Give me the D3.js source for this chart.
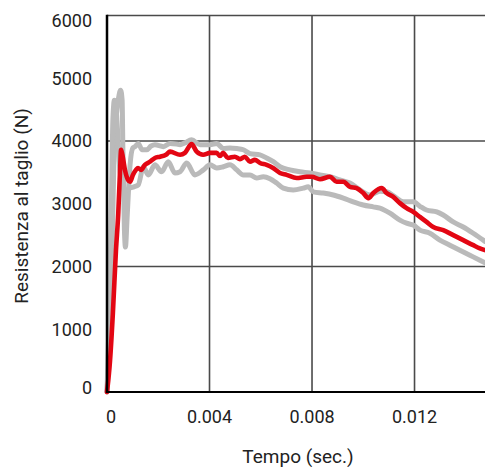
<!DOCTYPE html>
<html lang="it">
  <head>
    <meta charset="UTF-8" />
    <script src="https://d3js.org/d3.v7.min.js"></script>
    <title>Resistenza al taglio</title>
    <style>
      body { margin: 0; background: #fff; }
      text { font-family: Roboto, "DejaVu Sans", sans-serif; fill: #222; }
    </style>
  </head>
  <body>
    <svg id="chart" width="485" height="467"></svg>
  </body>
  <script>
    // tick values
    var xTicks = [0, 0.004, 0.008, 0.012];
    var yTicks = [0, 1000, 2000, 3000, 4000, 5000, 6000];
    var yGrid = [2000, 4000, 6000];

    // grey test 1 (spike, then upper band)
    var greyA_t = [0, 0.00012, 0.0002, 0.00027, 0.00035, 0.00041, 0.00047, 0.00053, 0.00059, 0.00062, 0.00068, 0.00072, 0.00078, 0.00084, 0.0009, 0.00101, 0.00109, 0.00122, 0.00137, 0.00155, 0.00172, 0.00187, 0.0022, 0.00246, 0.00272, 0.00285, 0.00304, 0.0033, 0.00363, 0.00402, 0.00428, 0.00454, 0.0048, 0.00506, 0.00532, 0.00558, 0.00597, 0.00623, 0.00649, 0.00675, 0.00714, 0.00753, 0.00792, 0.00831, 0.0087, 0.00909, 0.00948, 0.00987, 0.01026, 0.01065, 0.01091, 0.01124, 0.01156, 0.01195, 0.01221, 0.01247, 0.01287, 0.01312, 0.01351, 0.0139, 0.01429, 0.01475];
    var greyA_v = [0, 990, 2260, 3700, 4340, 4570, 4730, 4810, 4650, 3860, 2580, 2310, 2740, 3220, 3620, 3890, 3910, 3960, 3860, 3860, 3920, 3940, 3910, 3960, 3950, 3940, 3970, 4020, 3940, 3940, 3960, 3880, 3890, 3880, 3860, 3800, 3780, 3730, 3670, 3590, 3540, 3510, 3490, 3460, 3430, 3380, 3330, 3220, 3140, 3200, 3190, 3110, 3030, 3030, 2960, 2900, 2870, 2820, 2710, 2630, 2530, 2400];

    // grey test 2 (lower band)
    var greyB_t = [0, 0.00006, 0.00012, 0.00018, 0.00023, 0.00029, 0.00035, 0.00041, 0.00047, 0.00055, 0.00066, 0.00077, 0.0009, 0.00105, 0.00122, 0.00142, 0.00161, 0.00187, 0.00213, 0.00239, 0.00265, 0.00285, 0.00311, 0.00343, 0.00376, 0.00402, 0.00428, 0.00454, 0.0048, 0.00506, 0.00532, 0.00558, 0.00584, 0.0061, 0.00636, 0.00662, 0.00688, 0.00727, 0.00766, 0.00785, 0.00805, 0.00844, 0.00883, 0.00922, 0.00961, 0.01, 0.01039, 0.01065, 0.01104, 0.01143, 0.01169, 0.01195, 0.01221, 0.0126, 0.01299, 0.01338, 0.01377, 0.01416, 0.01455, 0.01475];
    var greyB_v = [0, 830, 1940, 3220, 4340, 4650, 4530, 4180, 3700, 3380, 3220, 3220, 3250, 3270, 3300, 3590, 3460, 3620, 3510, 3670, 3490, 3510, 3650, 3460, 3540, 3620, 3570, 3590, 3620, 3540, 3460, 3460, 3410, 3430, 3400, 3330, 3250, 3220, 3250, 3270, 3190, 3170, 3140, 3090, 3030, 2980, 2950, 2930, 2850, 2740, 2690, 2660, 2580, 2530, 2420, 2340, 2260, 2180, 2100, 2060];

    // red: mean curve
    var red_t = [0, 0.00012, 0.00023, 0.00035, 0.00044, 0.00051, 0.00055, 0.0006, 0.0007, 0.00082, 0.0009, 0.00101, 0.00113, 0.00121, 0.00133, 0.00148, 0.00168, 0.00187, 0.00207, 0.0023, 0.00246, 0.00285, 0.00304, 0.0033, 0.0035, 0.00375, 0.00402, 0.00428, 0.00441, 0.00453, 0.00472, 0.00499, 0.00519, 0.00538, 0.00558, 0.00577, 0.00597, 0.00623, 0.00648, 0.00675, 0.00701, 0.0074, 0.00779, 0.00799, 0.00831, 0.0087, 0.00896, 0.00922, 0.00948, 0.00974, 0.01, 0.0102, 0.01039, 0.01072, 0.01091, 0.01117, 0.01143, 0.01169, 0.01195, 0.01221, 0.01247, 0.01273, 0.01312, 0.01351, 0.0139, 0.01429, 0.01455, 0.01475];
    var red_v = [0, 510, 1260, 2260, 2850, 3540, 3860, 3780, 3540, 3380, 3350, 3460, 3540, 3570, 3540, 3620, 3670, 3730, 3750, 3780, 3830, 3780, 3810, 3950, 3830, 3780, 3810, 3810, 3760, 3810, 3730, 3750, 3710, 3750, 3670, 3700, 3650, 3620, 3570, 3490, 3460, 3410, 3430, 3430, 3390, 3430, 3350, 3350, 3270, 3250, 3170, 3090, 3170, 3250, 3170, 3110, 3010, 2930, 2870, 2790, 2710, 2630, 2580, 2500, 2420, 2340, 2290, 2260];

    var svg = d3.select("#chart");
    var mLeft = 107, mRight = 485, mTop = 15.5, mBottom = 392;

    var x = d3.scaleLinear().domain([0, 0.01475]).range([mLeft, mRight]);
    var y = d3.scaleLinear().domain([0, 6000]).range([mBottom, mTop]);

    // grid
    svg.append("g")
      .selectAll("line")
      .data(yGrid)
      .enter()
      .append("line")
      .attr("x1", mLeft)
      .attr("x2", mRight)
      .attr("y1", (d) => y(d))
      .attr("y2", (d) => y(d))
      .attr("stroke", "#4a4a4a")
      .attr("stroke-width", 1.6);

    svg.append("g")
      .selectAll("line")
      .data(xTicks.filter((d) => d > 0))
      .enter()
      .append("line")
      .attr("x1", (d) => x(d))
      .attr("x2", (d) => x(d))
      .attr("y1", mTop)
      .attr("y2", mBottom)
      .attr("stroke", "#4a4a4a")
      .attr("stroke-width", 1.6);

    // lines
    function pts(ts, vs) {
      return ts.map((t, i) => [t, vs[i]]);
    }
    var line = d3.line()
      .x((d) => x(d[0]))
      .y((d) => y(d[1]))
      .curve(d3.curveMonotoneX);

    var series = [
      { data: pts(greyA_t, greyA_v), color: "#bababa", w: 5 },
      { data: pts(greyB_t, greyB_v), color: "#bababa", w: 5 },
      { data: pts(red_t, red_v), color: "#e30613", w: 4.6 }
    ];
    svg.append("g")
      .selectAll("path")
      .data(series)
      .enter()
      .append("path")
      .attr("d", (d) => line(d.data))
      .attr("fill", "none")
      .attr("stroke", (d) => d.color)
      .attr("stroke-width", (d) => d.w)
      .attr("stroke-linejoin", "round")
      .attr("stroke-linecap", "round");

    // axes lines
    svg.append("line")
      .attr("x1", mLeft).attr("x2", mRight)
      .attr("y1", mBottom).attr("y2", mBottom)
      .attr("stroke", "#000").attr("stroke-width", 2);
    svg.append("line")
      .attr("x1", mLeft).attr("x2", mLeft)
      .attr("y1", mTop - 0.8).attr("y2", mBottom + 1)
      .attr("stroke", "#000").attr("stroke-width", 2.5);

    // y tick labels (pulled inside at the ends like the original)
    svg.append("g")
      .selectAll("text")
      .data(yTicks)
      .enter()
      .append("text")
      .attr("x", 92)
      .attr("y", (d) => Math.min(Math.max(y(d), 21), 387.5))
      .attr("dy", "0.36em")
      .attr("text-anchor", "end")
      .style("font-size", "18px")
      .text((d) => d);

    // x tick labels
    svg.append("g")
      .selectAll("text")
      .data(xTicks)
      .enter()
      .append("text")
      .attr("x", (d) => (d === 0 ? x(d) + 4 : x(d)))
      .attr("y", 423)
      .attr("text-anchor", "middle")
      .style("font-size", "18px")
      .text((d) => d);

    // axis titles
    svg.append("text")
      .attr("x", 298)
      .attr("y", 463)
      .attr("text-anchor", "middle")
      .style("font-size", "19px")
      .text("Tempo (sec.)");

    svg.append("text")
      .attr("transform", "translate(28,206) rotate(-90)")
      .attr("text-anchor", "middle")
      .style("font-size", "19px")
      .text("Resistenza al taglio (N)");
  </script>
</html>
